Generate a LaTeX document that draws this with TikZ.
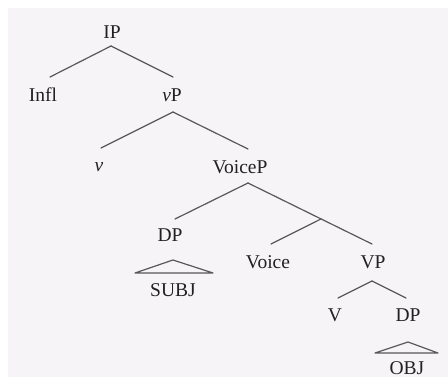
\documentclass[tikz,border=0pt]{standalone}
\usepackage{fontspec}
\setmainfont{Liberation Serif}
\definecolor{bgc}{HTML}{F7F4F7}
\definecolor{txt}{HTML}{222022}
\definecolor{ln}{HTML}{5A575A}
\begin{document}
\begin{tikzpicture}[x=1pt,y=-1pt,
  lab/.style={inner sep=0pt,text=txt,font=\fontsize{19.5}{23}\selectfont,anchor=center},
  branch/.style={draw=ln,line width=1.2pt,line cap=round}]
\useasboundingbox (0,0) rectangle (448,380);
\fill[white] (0,0) rectangle (448,380);
\fill[bgc] (8,8) rectangle (448,377);
% nodes
\node[lab] (IP) at (112,32) {IP};
\node[lab] (Infl) at (43,95) {Infl};
\node[lab] (vP) at (172,95) {\textit{v}P};
\node[lab] (v) at (99,167) {\textit{v}};
\node[lab] (VoiceP) at (240,167) {VoiceP};
\node[lab] (DP) at (170,235) {DP};
\node[lab] (SUBJ) at (173,290) {SUBJ};
\node[lab] (Voice) at (268,262) {Voice};
\node[lab] (VP) at (373,262) {VP};
\node[lab] (V) at (335,315) {V};
\node[lab] (DPo) at (408,315) {DP};
\node[lab] (OBJ) at (407,368) {OBJ};
% branches
\draw[branch] ([shift={(-1,14)}]IP.center) -- ([shift={(7,-18)}]Infl.center);
\draw[branch] ([shift={(-1,14)}]IP.center) -- ([shift={(1,-18)}]vP.center);
\draw[branch] ([shift={(1,17)}]vP.center) -- ([shift={(2,-19)}]v.center);
\draw[branch] ([shift={(1,17)}]vP.center) -- ([shift={(8,-18)}]VoiceP.center);
\draw[branch] ([shift={(8,16)}]VoiceP.center) -- ([shift={(5,-16)}]DP.center);
\draw[branch] ([shift={(8,16)}]VoiceP.center) -- coordinate[pos=0.589] (vbar) ([shift={(-1,-18)}]VP.center);
\draw[branch] (vbar) -- ([shift={(3,-18)}]Voice.center);
\draw[branch] ([shift={(-1,19)}]VP.center) -- ([shift={(3,-17)}]V.center);
\draw[branch] ([shift={(-1,19)}]VP.center) -- ([shift={(-2,-17)}]DPo.center);
% triangles
\draw[branch,line join=round] ([shift={(-38,-17)}]SUBJ.center) -- ([shift={(0,-30)}]SUBJ.center) -- ([shift={(40,-17)}]SUBJ.center) -- cycle;
\draw[branch,line join=round] ([shift={(-32,-15)}]OBJ.center) -- ([shift={(1,-26)}]OBJ.center) -- ([shift={(31,-15)}]OBJ.center) -- cycle;
\end{tikzpicture}
\end{document}
